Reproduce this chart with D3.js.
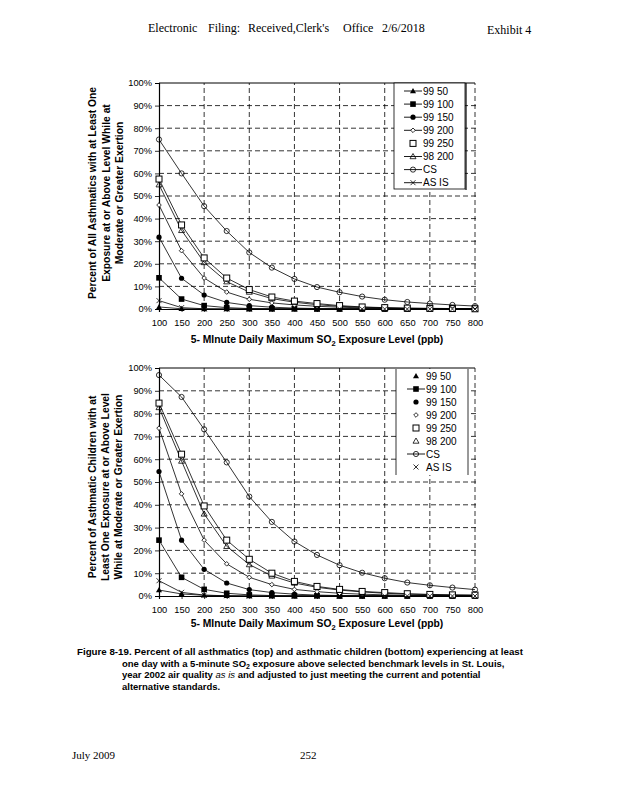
<!DOCTYPE html>
<html><head><meta charset="utf-8">
<script src="https://cdn.jsdelivr.net/npm/d3@7"></script>
<style>body{margin:0;background:#fff}svg{display:block}</style>
</head><body>
<svg id="c" width="618" height="800"></svg>
<script>
const levels = [100,150,200,250,300,350,400,450,500,550,600,650,700,750,800];
const seriesNames = ["99 50","99 100","99 150","99 200","99 250","98 200","CS","AS IS"];
const yTicks = [0,10,20,30,40,50,60,70,80,90,100];
const xTicks = levels;

// Top chart: all asthmatics (percent)
const top9950  = [0.9,0.1,0,0,0,0,0,0,0,0,0,0,0,0,0];
const top99100 = [13.8,4.4,1.5,0.6,0.2,0.1,0.1,0,0,0,0,0,0,0,0];
const top99150 = [31.8,13.6,6.2,2.9,1.5,0.8,0.4,0.2,0.1,0.1,0,0,0,0,0];
const top99200 = [46,25.8,13.7,7.5,4.3,2.7,1.8,1.2,0.8,0.5,0.3,0.2,0.1,0.1,0.1];
const top99250 = [57.5,37.2,22.6,13.7,8.6,5.3,3.5,2.4,1.5,0.9,0.6,0.4,0.3,0.2,0.1];
const top98200 = [55,34.8,20.6,12.1,7.5,4.6,3.0,1.9,1.2,0.8,0.5,0.3,0.2,0.1,0.1];
const topCS    = [75,60,45.5,34.5,25,18.3,13.3,9.7,7.4,5.5,4.1,3.1,2.4,1.8,1.3];
const topASIS  = [3.7,0.6,0.1,0,0,0,0,0,0,0,0,0,0,0,0];

// Bottom chart: asthmatic children (percent)
const bot9950  = [2.6,0.9,0.3,0.1,0,0,0,0,0,0,0,0,0,0,0];
const bot99100 = [24.5,8.2,2.9,1.2,0.5,0.2,0.1,0.1,0,0,0,0,0,0,0];
const bot99150 = [54.6,24.5,11.7,5.7,2.8,1.5,0.8,0.4,0.2,0.1,0.1,0,0,0,0];
const bot99200 = [73.6,44.8,24.5,14.1,8.2,5.0,2.9,1.9,1.2,0.8,0.5,0.3,0.2,0.1,0.1];
const bot99250 = [84.6,62.2,39.5,24.5,16.1,10.0,6.4,4.2,2.9,2.0,1.5,1.0,0.7,0.5,0.4];
const bot98200 = [82.7,59.2,36.0,21.8,13.8,8.8,5.7,3.8,2.6,1.8,1.2,0.8,0.6,0.4,0.3];
const botCS    = [96.9,87.3,73.1,58.6,43.6,32.5,23.9,18.0,13.5,10.2,7.8,5.9,4.7,3.7,2.8];
const botASIS  = [6.7,1.6,0.4,0.1,0,0,0,0,0,0,0,0,0,0,0];

const topSeries = [top9950,top99100,top99150,top99200,top99250,top98200,topCS,topASIS];
const botSeries = [bot9950,bot99100,bot99150,bot99200,bot99250,bot98200,botCS,botASIS];

const markerKinds = ["triFill","sqFill","circFill","diamond","sqOpen","triOpen","circOpen","cross"];
const topLegendLine = [true,true,true,true,false,true,true,true];
const botLegendLine = [false,true,false,false,false,false,true,false];

const svg = d3.select("#c");
const FONT = "'Liberation Sans', Arial, sans-serif";
const SERIF = "'Liberation Serif', 'Times New Roman', serif";

function marker(g, kind, x, y) {
  const s = g.append("g").attr("transform", `translate(${x},${y})`);
  const st = "#000";
  switch(kind) {
    case "triFill": s.append("path").attr("d","M0,-3 L3,2.2 L-3,2.2Z").attr("fill",st); break;
    case "sqFill": s.append("rect").attr("x",-2.8).attr("y",-2.8).attr("width",5.6).attr("height",5.6).attr("fill",st); break;
    case "circFill": s.append("circle").attr("r",2.6).attr("fill",st); break;
    case "diamond": s.append("path").attr("d","M0,-2.3 L2.3,0 L0,2.3 L-2.3,0Z").attr("fill","#fff").attr("stroke",st).attr("stroke-width",0.8); break;
    case "sqOpen": s.append("rect").attr("x",-3).attr("y",-3).attr("width",6).attr("height",6).attr("fill","#fff").attr("stroke",st).attr("stroke-width",1); break;
    case "triOpen": s.append("path").attr("d","M0,-3 L3,2.2 L-3,2.2Z").attr("fill","none").attr("stroke",st).attr("stroke-width",0.8); break;
    case "circOpen": s.append("circle").attr("r",2.6).attr("fill","none").attr("stroke",st).attr("stroke-width",0.8); break;
    case "cross": s.append("path").attr("d","M-2.5,-2.5 L2.5,2.5 M-2.5,2.5 L2.5,-2.5").attr("stroke",st).attr("stroke-width",0.8); break;
  }
}

function chart(cfg) {
  const x = d3.scaleLinear().domain([100,800]).range([cfg.x0, cfg.x1]);
  const y = d3.scaleLinear().domain([0,100]).range([cfg.y0, cfg.y1]);
  const g = svg.append("g");

  // horizontal grid
  g.append("g").selectAll("line").data(yTicks.filter(d=>d>0 && d<100)).join("line")
    .attr("x1", x(100)).attr("x2", x(800)+4).attr("y1", d=>y(d)).attr("y2", d=>y(d))
    .attr("stroke","#000").attr("stroke-width",0.8).attr("stroke-dasharray","5,3");
  // vertical grid every 100
  g.append("g").selectAll("line").data(xTicks.filter(d=>d%100===0 && d>100)).join("line")
    .attr("x1", d=>x(d)).attr("x2", d=>x(d)).attr("y1", y(0)).attr("y2", y(100))
    .attr("stroke","#000").attr("stroke-width",0.8).attr("stroke-dasharray","5,3");
  // top border solid
  g.append("line").attr("x1",x(100)).attr("x2",x(800)).attr("y1",y(100)).attr("y2",y(100))
    .attr("stroke","#000").attr("stroke-width",1);

  // axes
  const yAxis = d3.axisLeft(y).tickValues(yTicks).tickSize(4).tickPadding(3).tickFormat(d=>d+"%");
  const ya = g.append("g").attr("transform",`translate(${x(100)},0)`).call(yAxis);
  const xAxis = d3.axisBottom(x).tickValues(xTicks).tickSize(3).tickPadding(7).tickFormat(d3.format("d"));
  const xa = g.append("g").attr("transform",`translate(0,${y(0)})`).call(xAxis);
  [ya, xa].forEach(a => {
    a.select(".domain").attr("stroke","#000").attr("stroke-width",1.2);
    a.selectAll(".tick line").attr("stroke","#000").attr("stroke-width",0.8);
    a.selectAll("text").attr("font-family",FONT).attr("font-size",9.3).attr("fill","#000");
  });

  // series lines & markers
  const line = d3.line().x((d,i)=>x(levels[i])).y(d=>y(d));
  const order = [0,1,2,3,5,4,7,6];
  order.forEach(si => {
    const vals = cfg.series[si];
    g.append("path").datum(vals).attr("d", line).attr("fill","none")
      .attr("stroke","#000").attr("stroke-width",0.8);
  });
  order.forEach(si => {
    const vals = cfg.series[si];
    vals.forEach((v,i) => marker(g, markerKinds[si], x(levels[i]), y(v)));
  });

  // legend
  const lg = g.append("g");
  lg.append("rect").attr("x",cfg.lx).attr("y",cfg.ly).attr("width",cfg.lw).attr("height",cfg.lh)
    .attr("fill","#fff").attr("stroke", cfg.legendBox ? "#000" : "none").attr("stroke-width",0.8);
  if (!cfg.legendBox) {
    [cfg.lx, cfg.lx+cfg.lw].forEach(xx => lg.append("line").attr("x1",xx).attr("x2",xx)
      .attr("y1",cfg.ly).attr("y2",cfg.ly+cfg.lh).attr("stroke","#000").attr("stroke-width",0.8));
  } else {
    lg.append("line").attr("x1",cfg.lx+cfg.lw+1).attr("x2",cfg.lx+cfg.lw+1)
      .attr("y1",cfg.ly).attr("y2",cfg.ly+cfg.lh+1).attr("stroke","#000").attr("stroke-width",1.2);
  }
  seriesNames.forEach((nm,i) => {
    const yy = cfg.ly + cfg.lfirst + i*cfg.lstep;
    if (cfg.legendLine[i]) lg.append("line").attr("x1",cfg.mx-9).attr("x2",cfg.mx+9)
      .attr("y1",yy).attr("y2",yy).attr("stroke","#000").attr("stroke-width",0.9);
    marker(lg, markerKinds[i], cfg.mx, yy);
    lg.append("text").attr("x",cfg.mx+10).attr("y",yy).attr("dy","0.35em")
      .attr("font-family",FONT).attr("font-size",10).text(nm);
  });

  // x title
  const xt = g.append("text").attr("x",(x(100)+x(800))/2).attr("y",cfg.xtY)
    .attr("text-anchor","middle").attr("font-family",FONT).attr("font-size",10.3).attr("font-weight","bold");
  xt.append("tspan").text("5- MInute Daily Maximum SO");
  xt.append("tspan").attr("font-size",7.5).attr("dy",2.5).text("2");
  xt.append("tspan").attr("dy",-2.5).text(" Exposure Level (ppb)");

  // y title
  cfg.ytitle.forEach((t,i) => {
    g.append("text").attr("transform",`translate(${cfg.ytX[i]},${cfg.ytCy}) rotate(-90)`)
      .attr("text-anchor","middle").attr("font-family",FONT).attr("font-size",10.3).attr("font-weight","bold")
      .attr("dy","0.35em").text(t);
  });
}

chart({x0:159,x1:475,y0:309,y1:83,series:topSeries,legendLine:topLegendLine,legendBox:true,
  lx:394,ly:83,lw:71,lh:106,lfirst:8,lstep:13.1,mx:413,xtY:343,
  ytitle:["Percent of All Asthmatics with at Least One","Exposure at or Above Level While at","Moderate or Greater Exertion"],
  ytX:[92,106,119],ytCy:193});

chart({x0:159,x1:475,y0:596,y1:368,series:botSeries,legendLine:botLegendLine,legendBox:false,
  lx:396,ly:369,lw:72,lh:106,lfirst:7,lstep:13,mx:416,xtY:627,
  ytitle:["Percent of Asthmatic Children with at","Least One Exposure at or Above Level","While at Moderate or Greater Exertion"],
  ytX:[92,105,118],ytCy:487});

// header
const hdr = [["Electronic",148],["Filing:",208],["Received,Clerk's",248],["Office",343],["2/6/2018",382]];
hdr.forEach(([t,xx]) => svg.append("text").attr("x",xx).attr("y",32).attr("font-family",SERIF).attr("font-size",12).text(t));
svg.append("text").attr("x",487).attr("y",34).attr("font-family",SERIF).attr("font-size",12).text("Exhibit 4");

// caption
const cap = svg.append("g").attr("font-family",FONT).attr("font-size",9.5).attr("font-weight","bold");
cap.append("text").attr("x",77).attr("y",655).attr("textLength",446).attr("lengthAdjust","spacingAndGlyphs")
  .text("Figure 8-19.  Percent of all asthmatics (top) and asthmatic children (bottom) experiencing at least");
const l2 = cap.append("text").attr("x",122).attr("y",667);
l2.append("tspan").text("one day with a 5-minute SO");
l2.append("tspan").attr("font-size",7).attr("dy",2).text("2");
l2.append("tspan").attr("dy",-2).text(" exposure above selected benchmark levels in St. Louis,");
const l3 = cap.append("text").attr("x",122).attr("y",678);
l3.append("tspan").text("year 2002 air quality ");
l3.append("tspan").attr("font-style","italic").attr("font-weight","normal").text("as is");
l3.append("tspan").text(" and adjusted to just meeting the current and potential");
cap.append("text").attr("x",122).attr("y",690).text("alternative standards.");

// footer
svg.append("text").attr("x",72).attr("y",759).attr("font-family",SERIF).attr("font-size",11).text("July 2009");
svg.append("text").attr("x",300).attr("y",759).attr("font-family",SERIF).attr("font-size",11).text("252");
</script>
</body></html>
